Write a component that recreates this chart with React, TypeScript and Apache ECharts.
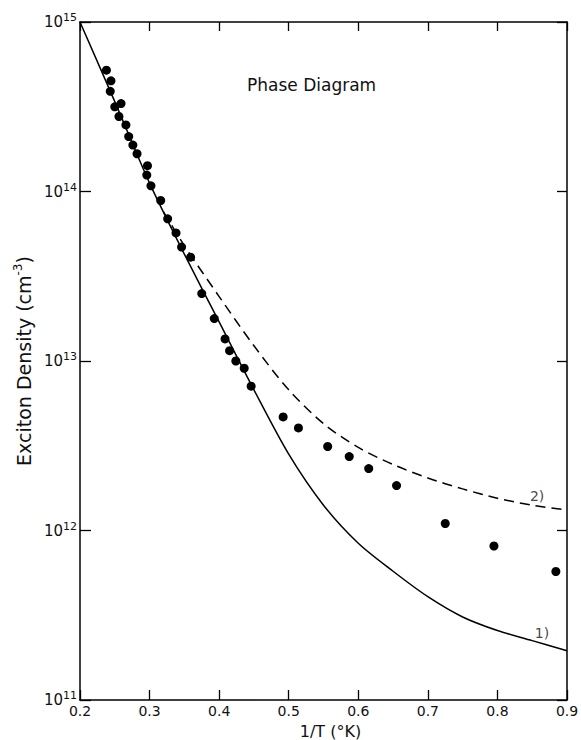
import React, { useEffect, useRef } from "react";
import * as echarts from "echarts";

// Curve 1) (solid)
const curve1X = [0.2, 0.25, 0.3, 0.35, 0.4, 0.45, 0.5, 0.55, 0.6, 0.65, 0.7, 0.75, 0.8, 0.85, 0.9];
const curve1Y = [1.0e15, 3.39e14, 1.12e14, 4.27e13, 1.7e13, 6.76e12, 2.82e12, 1.41e12, 8.41e11, 5.75e11, 4.07e11, 3.09e11, 2.57e11, 2.24e11, 1.95e11];

// Curve 2) (dashed)
const curve2X = [0.32, 0.35, 0.4, 0.45, 0.5, 0.55, 0.6, 0.65, 0.7, 0.75, 0.8, 0.85, 0.9];
const curve2Y = [7.59e13, 4.79e13, 2.4e13, 1.23e13, 6.76e12, 4.27e12, 3.09e12, 2.45e12, 2.04e12, 1.76e12, 1.55e12, 1.41e12, 1.32e12];

// Measured points
const pointsX = [0.238, 0.2445, 0.2435, 0.25, 0.259, 0.256, 0.266, 0.27, 0.276, 0.282, 0.297, 0.296, 0.302, 0.316, 0.326, 0.338, 0.346, 0.359, 0.375, 0.393, 0.4085, 0.415, 0.424, 0.436, 0.446, 0.492, 0.514, 0.556, 0.587, 0.615, 0.655, 0.725, 0.795, 0.884];
const pointsY = [5.2e14, 4.5e14, 3.9e14, 3.16e14, 3.3e14, 2.77e14, 2.47e14, 2.11e14, 1.88e14, 1.67e14, 1.42e14, 1.25e14, 1.08e14, 8.85e13, 6.9e13, 5.7e13, 4.7e13, 4.1e13, 2.5e13, 1.78e13, 1.35e13, 1.15e13, 1.0e13, 9.06e12, 7.1e12, 4.68e12, 4.03e12, 3.13e12, 2.73e12, 2.32e12, 1.84e12, 1.1e12, 8.1e11, 5.73e11];

// Curve labels
const curveLabelText = ["1)", "2)"];
const curveLabelX = [0.864, 0.857];
const curveLabelY = [2.5e11, 1.6e12];

const X_MIN = 0.2;
const X_MAX = 0.9;
const X_STEP = 0.1;
const Y_MIN = 1e11;
const Y_MAX = 1e15;

const FONT = "DejaVu Sans";

export default function App() {
  const ref = useRef<HTMLDivElement>(null);
  useEffect(() => {
    if (!ref.current) return;
    const chart = echarts.init(ref.current, undefined, { renderer: "svg" });
    const mkLine = () => ({ show: true, onZero: false, lineStyle: { color: "#000", width: 1.5 } });
    // negative length draws the tick marks towards the inside of the frame
    const mkTick = (len: number) => ({ show: true, inside: false, length: -len, lineStyle: { color: "#000", width: 1.3 } });
    const supLabel = (v: number) => "{b|10}{s|" + Math.round(Math.log10(v)) + "}";
    const option: any = {
      animation: false,
      backgroundColor: "#fff",
      title: {
        text: "Phase Diagram",
        left: 247,
        top: 76,
        padding: 0,
        textStyle: { fontFamily: FONT, fontSize: 17, fontWeight: "normal", color: "#111" },
      },
      grid: { left: 80, right: 14, top: 22, bottom: 40, outerBoundsMode: "none", containLabel: false },
      xAxis: [
        {
          type: "value",
          position: "bottom",
          min: X_MIN,
          max: X_MAX,
          interval: X_STEP,
          axisLine: mkLine(),
          axisTick: mkTick(10),
          splitLine: { show: false },
          axisLabel: {
            color: "#111",
            fontFamily: FONT,
            fontSize: 14,
            margin: 4,
            formatter: (v: number) => v.toFixed(1),
          },
          name: "1/T (°K)",
          nameLocation: "middle",
          nameGap: 16,
          nameTextStyle: { fontFamily: FONT, fontSize: 16, lineHeight: 17, color: "#111", padding: [0, 0, 0, 14] },
        },
        {
          type: "value",
          position: "top",
          min: X_MIN,
          max: X_MAX,
          interval: X_STEP,
          axisLine: mkLine(),
          axisTick: mkTick(9),
          splitLine: { show: false },
          axisLabel: { show: false },
        },
      ],
      yAxis: [
        {
          type: "log",
          logBase: 10,
          position: "left",
          min: Y_MIN,
          max: Y_MAX,
          axisLine: mkLine(),
          axisTick: mkTick(11),
          minorTick: { show: false },
          splitLine: { show: false },
          axisLabel: {
            color: "#111",
            fontFamily: FONT,
            margin: 3,
            formatter: supLabel,
            rich: {
              b: { fontFamily: FONT, fontSize: 15, color: "#111" },
              s: { fontFamily: FONT, fontSize: 11, color: "#111", padding: [0, 0, 9, 0] },
            },
          },
          name: "{t|Exciton Density (cm}{s|-3}{t|)}",
          nameLocation: "middle",
          nameGap: 37,
          nameRotate: 90,
          nameTextStyle: {
            color: "#111",
            rich: {
              t: { fontFamily: FONT, fontSize: 19, color: "#111" },
              s: { fontFamily: FONT, fontSize: 12, color: "#111", padding: [0, 0, 11, 0] },
            },
          },
        },
        {
          type: "log",
          logBase: 10,
          position: "right",
          min: Y_MIN,
          max: Y_MAX,
          axisLine: mkLine(),
          axisTick: mkTick(10),
          splitLine: { show: false },
          axisLabel: { show: false },
        },
      ],
      series: [
        {
          name: "1)",
          type: "line",
          xAxisIndex: 0,
          yAxisIndex: 0,
          data: curve1X.map((x, i) => [x, curve1Y[i]]),
          smooth: 0.3,
          showSymbol: false,
          symbol: "none",
          lineStyle: { color: "#000", width: 1.5 },
          z: 2,
        },
        {
          name: "2)",
          type: "line",
          xAxisIndex: 0,
          yAxisIndex: 0,
          data: curve2X.map((x, i) => [x, curve2Y[i]]),
          smooth: 0.3,
          showSymbol: false,
          symbol: "none",
          lineStyle: { color: "#000", width: 1.5, type: [10, 6] },
          z: 2,
        },
        {
          name: "data",
          type: "scatter",
          xAxisIndex: 0,
          yAxisIndex: 0,
          data: pointsX.map((x, i) => [x, pointsY[i]]),
          symbol: "circle",
          symbolSize: 9,
          itemStyle: { color: "#000", opacity: 1 },
          z: 3,
        },
        {
          name: "labels",
          type: "scatter",
          xAxisIndex: 0,
          yAxisIndex: 0,
          data: curveLabelX.map((x, i) => ({ value: [x, curveLabelY[i]], name: curveLabelText[i] })),
          symbolSize: 0,
          silent: true,
          label: {
            show: true,
            position: "inside",
            formatter: (p: any) => p.name,
            fontFamily: FONT,
            fontSize: 14,
            color: "#111",
          },
          z: 4,
        },
      ],
    };
    chart.setOption(option);
    return () => chart.dispose();
  }, []);
  return (
    <div
      ref={ref}
      style={{ position: "fixed", left: 0, top: 0, width: 581, height: 740, background: "#fff" }}
    />
  );
}
